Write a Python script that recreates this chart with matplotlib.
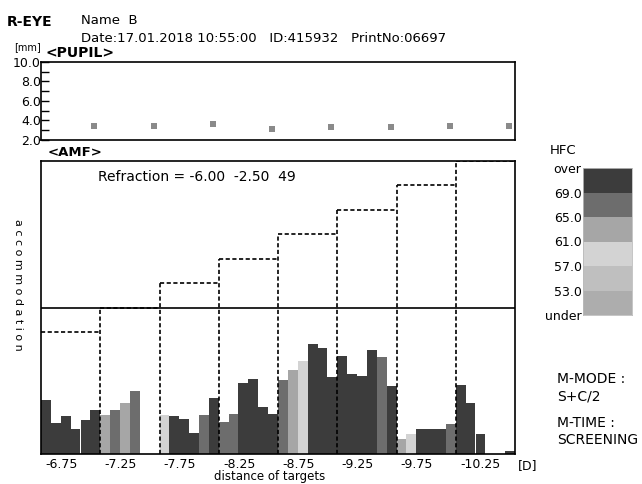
import numpy as np
import matplotlib
matplotlib.use("Agg")
import matplotlib.pyplot as plt

# Data
targets = ["-6.75", "-7.25", "-7.75", "-8.25", "-8.75", "-9.25", "-9.75", "-10.25"]
stimulus = [2.5, 3.0, 3.5, 4.0, 4.5, 5.0, 5.5, 6.0]   # dashed staircase (0.5 D steps)
far_line = 3.0
pupil = [3.46, 3.46, 3.63, 3.16, 3.29, 3.29, 3.46, 3.46]

# 6 accommodation samples per target
accom = [
    [1.10, 0.64, 0.77, 0.51, 0.70, 0.91],
    [0.80, 0.91, 1.04, 1.28, 0.00, 0.00],
    [0.80, 0.77, 0.72, 0.43, 0.80, 1.15],
    [0.66, 0.81, 1.45, 1.53, 0.97, 0.81],
    [1.52, 1.71, 1.91, 2.25, 2.17, 1.58],
    [2.01, 1.64, 1.60, 2.12, 1.98, 1.40],
    [0.31, 0.41, 0.51, 0.51, 0.51, 0.61],
    [1.42, 1.04, 0.41, 0.00, 0.00, 0.06],
]
# HFC class per sample: 0 over, 1 69-65, 2 65-61, 3 61-57
hfc = [
    [0, 0, 0, 0, 0, 0],
    [2, 1, 2, 1, 0, 0],
    [3, 0, 0, 0, 1, 0],
    [1, 1, 0, 0, 0, 0],
    [1, 2, 3, 0, 0, 0],
    [0, 0, 0, 0, 1, 0],
    [2, 3, 0, 0, 0, 1],
    [0, 0, 0, 0, 0, 0],
]
hfc_labels = ["over", "69.0", "65.0", "61.0", "57.0", "53.0", "under"]
hfc_colors = ["#3c3c3c", "#6d6d6d", "#a6a6a6", "#d3d3d3", "#bfbfbf", "#adadad"]

plt.rcParams['font.family'] = ['DejaVu Sans']
W, H = 642, 484
fig = plt.figure(figsize=(6.42, 4.84), dpi=100)

def box(l, t, r, b):
    return [l / W, 1 - b / H, (r - l) / W, (b - t) / H]

n = len(targets)

# header
fig.text(7 / W, 1 - 22 / H, "R-EYE", fontsize=10, fontweight='bold', va='center')
fig.text(81 / W, 1 - 21 / H, "Name  B", fontsize=9.5, va='center')
fig.text(81 / W, 1 - 38 / H, "Date:17.01.2018 10:55:00   ID:415932   PrintNo:06697",
         fontsize=9.5, va='center')
fig.text(14 / W, 1 - 47 / H, "[mm]", fontsize=7, va='center')
fig.text(46 / W, 1 - 53 / H, "<PUPIL>", fontsize=10, fontweight='bold', va='center')

# pupil panel
axp = fig.add_axes(box(41, 62, 515, 140))
axp.plot(np.arange(n) + 0.9, pupil, 's', color='#8a8a8a', markersize=4, markeredgewidth=0)
axp.set_xlim(0, n)
axp.set_ylim(2, 10)
axp.set_yticks([2, 4, 6, 8, 10])
axp.set_yticklabels(["2.0", "4.0", "6.0", "8.0", "10.0"], fontsize=9)
axp.set_yticks([3, 5, 7, 9], minor=True)
axp.tick_params(axis='y', which='major', direction='in', length=6, width=1, pad=0)
axp.tick_params(axis='y', which='minor', direction='in', length=6, width=1)
axp.set_xticks([])
for s in axp.spines.values():
    s.set_linewidth(1.2)

# AMF panel
fig.text(48 / W, 1 - 153 / H, "<AMF>", fontsize=9.5, fontweight='bold', va='center')
ax = fig.add_axes(box(41, 161, 515, 454))
bw = 1 / 6
for i in range(n):
    xs = i + (np.arange(6) + 0.5) * bw
    cols = [hfc_colors[c] for c in hfc[i]]
    ax.bar(xs, accom[i], width=bw, color=cols, linewidth=0, zorder=1)

ax.axhline(far_line, color='black', linewidth=1.2, zorder=3)
dash = dict(color='black', linewidth=1.2, linestyle=(0, (2.5, 1.5)), zorder=4)
for i in range(n):
    ax.plot([i, i + 1], [stimulus[i], stimulus[i]], **dash)
for k in range(1, n):
    ax.plot([k, k], [0, max(stimulus[k - 1], stimulus[k])], **dash)
ax.set_xlim(0, n)
ax.set_ylim(0, 6)
ax.set_yticks([])
ax.set_xticks(np.arange(n) + 0.07)
ax.set_xticklabels(targets, fontsize=9)
for lab in ax.get_xticklabels():
    lab.set_horizontalalignment('left')
ax.tick_params(axis='x', length=0, pad=3)
for s in ax.spines.values():
    s.set_linewidth(1.2)
    s.set_zorder(5)

fig.text(98 / W, 1 - 177 / H, "Refraction = -6.00  -2.50  49", fontsize=10, va='center')
fig.text(18 / W, 1 - 285 / H, "a c c o m m o d a t i o n", rotation=-90, fontsize=8,
         ha='center', va='center')
fig.text(270 / W, 1 - 483 / H, "distance of targets", fontsize=8.5, ha='center', va='bottom')
fig.text(518 / W, 1 - 466 / H, "[D]", fontsize=9, va='center')

# HFC legend
fig.text(563 / W, 1 - 150 / H, "HFC", fontsize=9.5, ha='center', va='center')
axc = fig.add_axes(box(583, 168, 632, 315))
m = len(hfc_colors)
for j, c in enumerate(hfc_colors):
    axc.bar(0, 1, bottom=m - 1 - j, width=1, color=c, linewidth=0)
axc.set_xlim(-0.5, 0.5)
axc.set_ylim(0, m)
axc.set_xticks([])
axc.set_yticks(np.arange(m + 1)[::-1])
axc.set_yticklabels(hfc_labels, fontsize=9)
axc.tick_params(axis='y', length=0, pad=1)
for s in axc.spines.values():
    s.set_color('#bbbbbb')
    s.set_linewidth(0.6)

fig.text(557 / W, 1 - 379 / H, "M-MODE :", fontsize=10, va='center')
fig.text(557 / W, 1 - 397 / H, "S+C/2", fontsize=10, va='center')
fig.text(557 / W, 1 - 423 / H, "M-TIME :", fontsize=10, va='center')
fig.text(557 / W, 1 - 440 / H, "SCREENING", fontsize=10, va='center')

fig.savefig("out.png", dpi=100)
